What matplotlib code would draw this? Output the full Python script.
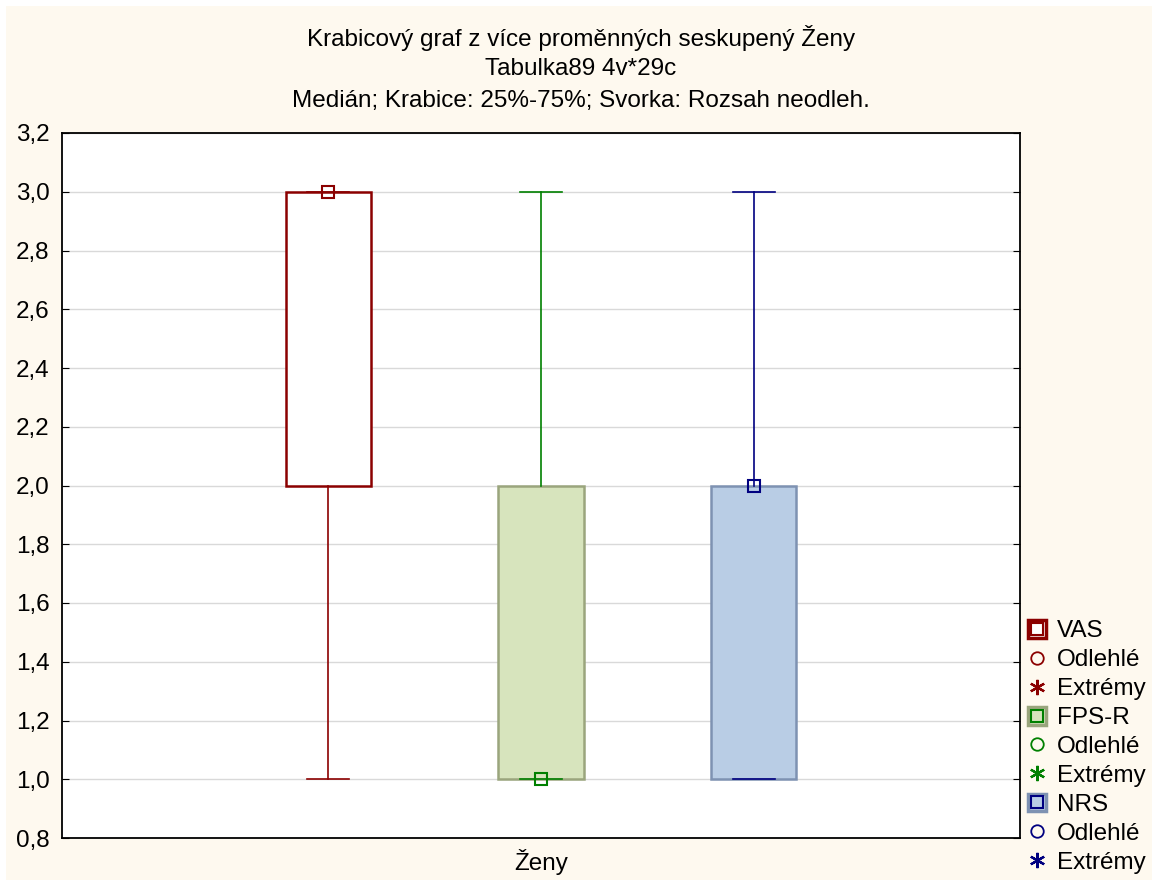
import matplotlib.pyplot as plt
from matplotlib.patches import Patch, Rectangle
from matplotlib.lines import Line2D
from matplotlib.legend_handler import HandlerTuple
from matplotlib.ticker import FuncFormatter

plt.rcParams['font.family'] = ['Liberation Sans', 'DejaVu Sans']

# data
names = ['VAS', 'FPS-R', 'NRS']
minima = [1.0, 1.0, 1.0]
q1 = [2.0, 1.0, 1.0]
medians = [3.0, 1.0, 2.0]
q3 = [3.0, 2.0, 2.0]
maxima = [3.0, 3.0, 3.0]
group = 'Ženy'

line_colors = ['#8B0000', '#008000', '#000080']
fill_colors = ['#FFFFFF', '#D7E4BD', '#B9CDE5']
edge_colors = ['#8B0000', '#9AA57D', '#7E92B2']

fig = plt.figure(figsize=(11.56, 8.84), dpi=100)
fig.patch.set_facecolor('white')
fig.patches.append(Rectangle((6 / 1156, 4 / 884), 1146 / 1156, 874 / 884, transform=fig.transFigure,
                             figure=fig, facecolor='#FEF9EF', edgecolor='none', zorder=-10))

ax = fig.add_axes([62 / 1156, 1 - 838 / 884, 958 / 1156, 705 / 884])
ax.set_facecolor('white')

positions = [1, 2, 3]
for i, name in enumerate(names):
    stats = [dict(med=medians[i], q1=q1[i], q3=q3[i], whislo=minima[i], whishi=maxima[i], fliers=[])]
    ax.bxp(stats, positions=[positions[i]], widths=0.4, patch_artist=True, showfliers=False,
           boxprops=dict(facecolor=fill_colors[i], edgecolor=edge_colors[i], linewidth=1.8),
           whiskerprops=dict(color=line_colors[i], linewidth=1.2),
           capprops=dict(color=line_colors[i], linewidth=1.2),
           capwidths=0.2,
           medianprops=dict(linewidth=0),
           zorder=3)
    ax.plot(positions[i], medians[i], marker='s', ms=9, mfc='none', mec=line_colors[i],
            mew=1.5, ls='none', zorder=5, clip_on=False)

ax.set_xlim(-0.25, 4.25)
ax.set_ylim(0.8, 3.2)
ax.set_yticks([0.8, 1.0, 1.2, 1.4, 1.6, 1.8, 2.0, 2.2, 2.4, 2.6, 2.8, 3.0, 3.2])
ax.yaxis.set_major_formatter(FuncFormatter(lambda v, p: f'{v:.1f}'.replace('.', ',')))
ax.set_xticks([2])
ax.set_xticklabels([group])
ax.tick_params(axis='y', direction='in', left=True, right=True, length=5, labelsize=17.5, pad=9)
ax.tick_params(axis='x', length=0, labelsize=17.5, pad=8)
ax.yaxis.grid(True, color='#D9D9D9', linewidth=1)
ax.set_axisbelow(True)
for s in ax.spines.values():
    s.set_linewidth(1.3)
    s.set_color('black')

cx = 581 / 1156
fig.text(cx, 1 - 38 / 884, 'Krabicový graf z více proměnných seskupený Ženy', ha='center', va='center', fontsize=17.5)
fig.text(cx, 1 - 69 / 884, 'Tabulka89 4v*29c', ha='center', va='center', fontsize=17.5)
fig.text(cx, 1 - 101 / 884, 'Medián; Krabice: 25%-75%; Svorka: Rozsah neodleh.', ha='center', va='center', fontsize=17.5)

handles, labels = [], []
for i, name in enumerate(names):
    box = Patch(facecolor=fill_colors[i], edgecolor=line_colors[i] if i == 0 else edge_colors[i], linewidth=2.5)
    inner = Line2D([], [], marker='s', ms=9, mfc='none', mec=line_colors[i], mew=1.5, ls='none')
    circ = Line2D([], [], marker='o', ms=9, mfc='none', mec=line_colors[i], mew=1.3, ls='none')
    star = Line2D([], [], marker=(6, 2, 0), ms=11, color=line_colors[i], mew=1.6, ls='none')
    handles += [(box, inner), circ, star]
    labels += [name, 'Odlehlé', 'Extrémy']

fig.legend(handles, labels, loc='upper left', bbox_to_anchor=(1028 / 1156, 1 - 620 / 884),
           frameon=False, fontsize=17.5, handlelength=0.75, handleheight=0.75, handletextpad=0.45,
           labelspacing=0.27, borderpad=0, borderaxespad=0,
           handler_map={tuple: HandlerTuple(ndivide=1, pad=0)})

fig.savefig('out.png', dpi=100)
